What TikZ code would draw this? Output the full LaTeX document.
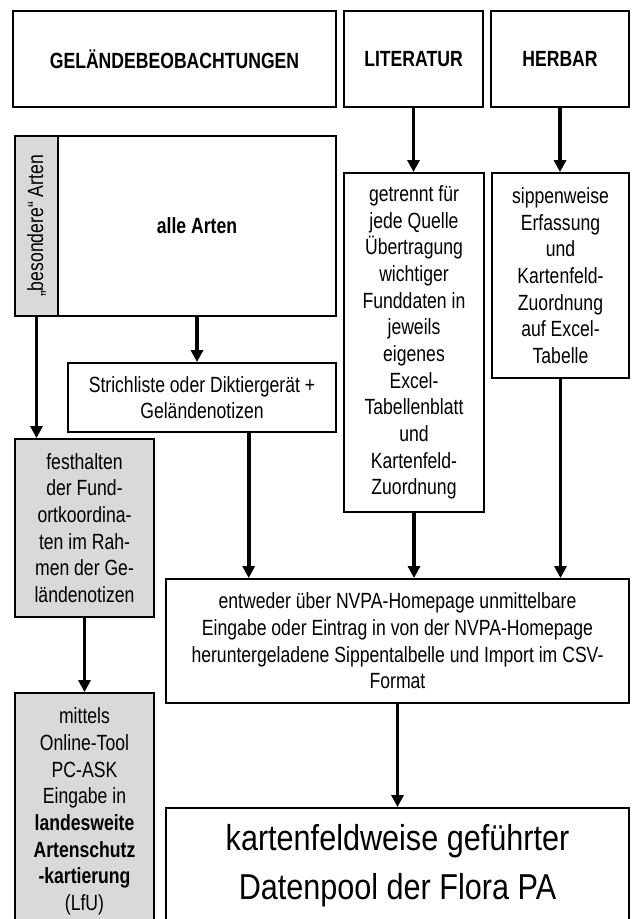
\documentclass[tikz,border=0pt]{standalone}
\usepackage{fontspec}
\setmainfont{Liberation Sans}[FakeStretch=0.8]
\newfontfamily\bigfont{Liberation Sans}[FakeStretch=0.85]
\usetikzlibrary{arrows.meta}

\begin{document}
\begin{tikzpicture}[x=0.75pt,y=-0.75pt,
  box/.style={draw,line width=1.4pt,align=center,inner sep=2pt,font=\fontsize{16.5}{20}\selectfont},
  graybox/.style={box,fill=black!15},
  bigbox/.style={box,font=\fontsize{16.5}{20}\selectfont\bfseries},
  arr/.style={line width=2.8pt,-{Triangle[length=9pt,width=9pt]}}]
\useasboundingbox (0,0) rectangle (634,919);
\clip (0,0) rectangle (634,919);
\node[bigbox,minimum width=242.25pt,minimum height=72pt] (gel) at (174.5,59) {GELÄNDEBEOBACHTUNGEN};
\node[bigbox,minimum width=104.25pt,minimum height=72pt] (lit) at (413.5,59) {LITERATUR};
\node[bigbox,minimum width=103.5pt,minimum height=72pt] (herb) at (560,59) {HERBAR};
\node[graybox,rotate=90,minimum width=135pt,minimum height=32.25pt] (bes) at (36.5,226) {„besondere“ Arten};
\node[bigbox,minimum width=208.5pt,minimum height=135pt] (alle) at (197,226) {alle Arten};
\node[box,minimum width=201pt,minimum height=51.75pt] (strich) at (202,397.5) {Strichliste oder Diktiergerät +\\Geländenotizen};
\node[box,minimum width=105pt,minimum height=254.25pt] (getr) at (414,342.5) {getrennt für\\jede Quelle\\Übertragung\\wichtiger\\Funddaten in\\jeweils\\eigenes\\Excel-\\Tabellenblatt\\und\\Kartenfeld-\\Zuordnung};
\node[box,minimum width=102.75pt,minimum height=153.75pt] (sipp) at (560.5,275.5) {sippenweise\\Erfassung\\und\\Kartenfeld-\\Zuordnung\\auf Excel-\\Tabelle};
\node[graybox,minimum width=104.25pt,minimum height=133.5pt] (fest) at (84.5,528) {festhalten\\der Fund-\\ortkoordina-\\ten im Rah-\\men der Ge-\\ländenotizen};
\node[box,minimum width=347.25pt,minimum height=93pt] (entw) at (397.5,641) {entweder über NVPA-Homepage unmittelbare\\Eingabe oder Eintrag in von der NVPA-Homepage\\heruntergeladene Sippentalbelle und Import im CSV-\\Format};
\node[graybox,minimum width=104.25pt,minimum height=177.75pt] (mitt) at (84.5,811.5) {mittels\\Online-Tool\\PC-ASK\\Eingabe in\\\textbf{landesweite}\\\textbf{Artenschutz}\\\textbf{-kartierung}\\(LfU)};
\node[box,minimum width=347.25pt,minimum height=87pt,font=\bigfont\fontsize{27}{37}\selectfont] (karte) at (397.5,866) {kartenfeldweise geführter\\Datenpool der Flora PA};
\draw[arr] (lit.south) -- (lit.south |- getr.north);
\draw[arr] (herb.south) -- (herb.south |- sipp.north);
\draw[arr] (alle.south) -- (alle.south |- strich.north);
\draw[arr] (bes.west) -- (bes.west |- fest.north);
\draw[arr] ([xshift=35pt]strich.south) -- ([xshift=35pt]strich.south |- entw.north);
\draw[arr] (getr.south) -- (getr.south |- entw.north);
\draw[arr] (sipp.south) -- (sipp.south |- entw.north);
\draw[arr] (fest.south) -- (fest.south |- mitt.north);
\draw[arr] (entw.south) -- (entw.south |- karte.north);
\end{tikzpicture}
\end{document}
